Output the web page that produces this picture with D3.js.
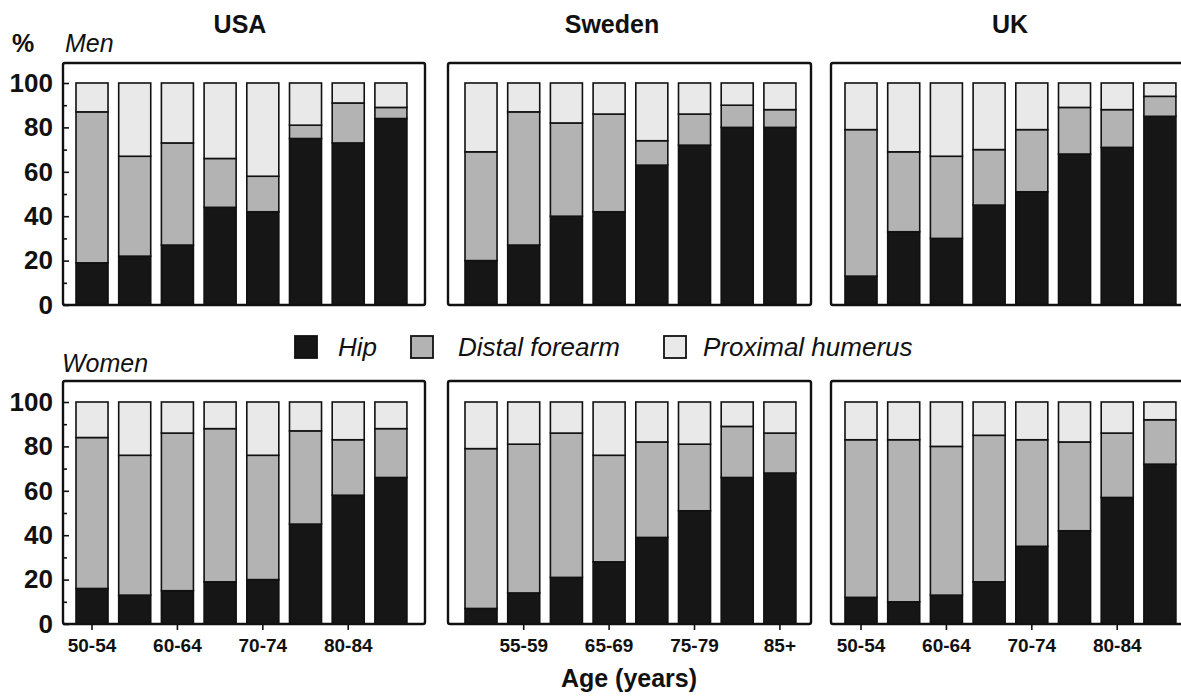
<!DOCTYPE html>
<html>
<head>
<meta charset="utf-8">
<script src="https://cdn.jsdelivr.net/npm/d3@7"></script>
<style>
  html, body { margin: 0; padding: 0; background: #fff; }
  svg { display: block; font-family: "Liberation Sans", Arial, Helvetica, sans-serif; }
</style>
</head>
<body>
<svg id="chart" width="1181" height="696"></svg>
<script>
// ---------- data ----------
const ageGroups = ["50-54", "55-59", "60-64", "65-69", "70-74", "75-79", "80-84", "85+"];
const fractureTypes = ["Hip", "Distal forearm", "Proximal humerus"];
const countries = ["USA", "Sweden", "UK"];
const sexes = ["Men", "Women"];
const yTicks = [0, 20, 40, 60, 80, 100];

// percentages of fractures, per age group
const usaMenHip       = [19, 22, 27, 44, 42, 75, 73, 84];
const usaMenDistal    = [68, 45, 46, 22, 16,  6, 18,  5];
const usaMenProximal  = [13, 33, 27, 34, 42, 19,  9, 11];

const swedenMenHip      = [20, 27, 40, 42, 63, 72, 80, 80];
const swedenMenDistal   = [49, 60, 42, 44, 11, 14, 10,  8];
const swedenMenProximal = [31, 13, 18, 14, 26, 14, 10, 12];

const ukMenHip       = [13, 33, 30, 45, 51, 68, 71, 85];
const ukMenDistal    = [66, 36, 37, 25, 28, 21, 17,  9];
const ukMenProximal  = [21, 31, 33, 30, 21, 11, 12,  6];

const usaWomenHip      = [16, 13, 15, 19, 20, 45, 58, 66];
const usaWomenDistal   = [68, 63, 71, 69, 56, 42, 25, 22];
const usaWomenProximal = [16, 24, 14, 12, 24, 13, 17, 12];

const swedenWomenHip      = [ 7, 14, 21, 28, 39, 51, 66, 68];
const swedenWomenDistal   = [72, 67, 65, 48, 43, 30, 23, 18];
const swedenWomenProximal = [21, 19, 14, 24, 18, 19, 11, 14];

const ukWomenHip      = [12, 10, 13, 19, 35, 42, 57, 72];
const ukWomenDistal   = [71, 73, 67, 66, 48, 40, 29, 20];
const ukWomenProximal = [17, 17, 20, 15, 17, 18, 14,  8];

// x-axis tick labels shown under each country's lower panel
const usaTickLabels    = ["50-54", "60-64", "70-74", "80-84"];
const swedenTickLabels = ["55-59", "65-69", "75-79", "85+"];
const ukTickLabels     = ["50-54", "60-64", "70-74", "80-84"];

// ---------- layout ----------
const colors = { "Hip": "#161616", "Distal forearm": "#b3b3b3", "Proximal humerus": "#e9e9e9" };
const columns = [
  { country: "USA",    frameLeft: 63,  frameRight: 425,  barStart: 76,  titleX: 240,  ticks: usaTickLabels },
  { country: "Sweden", frameLeft: 448, frameRight: 811,  barStart: 465, titleX: 612,  ticks: swedenTickLabels },
  { country: "UK",     frameLeft: 831, frameRight: 1195, barStart: 845, titleX: 1010, ticks: ukTickLabels }
];
const rows = [
  { sex: "Men",   bottom: 305, top: 63 },
  { sex: "Women", bottom: 624, top: 381 }
];
const step = 42.7;
const plotH = 222;

const seriesData = {
  "USA|Men":      [usaMenHip, usaMenDistal, usaMenProximal],
  "Sweden|Men":   [swedenMenHip, swedenMenDistal, swedenMenProximal],
  "UK|Men":       [ukMenHip, ukMenDistal, ukMenProximal],
  "USA|Women":    [usaWomenHip, usaWomenDistal, usaWomenProximal],
  "Sweden|Women": [swedenWomenHip, swedenWomenDistal, swedenWomenProximal],
  "UK|Women":     [ukWomenHip, ukWomenDistal, ukWomenProximal]
};

const svg = d3.select("#chart");

rows.forEach((row, ri) => {
  columns.forEach((col, ci) => {
    const arrs = seriesData[col.country + "|" + row.sex];
    const table = ageGroups.map((a, i) => {
      const o = { age: a };
      fractureTypes.forEach((k, j) => o[k] = arrs[j][i]);
      return o;
    });
    const stacked = d3.stack().keys(fractureTypes)(table);

    const x0 = col.barStart - (step * 0.25) / 2;
    const x = d3.scaleBand().domain(ageGroups)
      .range([x0, x0 + step * ageGroups.length])
      .paddingInner(0.25).paddingOuter(0.125);
    const y = d3.scaleLinear().domain([0, 100]).range([row.bottom, row.bottom - plotH]);

    const g = svg.append("g");

    // bars
    g.selectAll("g.series").data(stacked).join("g")
      .attr("class", "series")
      .attr("fill", d => colors[d.key])
      .selectAll("rect").data(d => d).join("rect")
      .attr("x", d => x(d.data.age))
      .attr("width", x.bandwidth())
      .attr("y", d => y(d[1]))
      .attr("height", d => y(d[0]) - y(d[1]))
      .attr("stroke", "#111")
      .attr("stroke-width", 1.6);

    // frame
    g.append("rect")
      .attr("x", col.frameLeft).attr("y", row.top)
      .attr("width", col.frameRight - col.frameLeft)
      .attr("height", row.bottom - row.top)
      .attr("rx", 2)
      .attr("fill", "none").attr("stroke", "#111").attr("stroke-width", 2.4);

    // y axis on first column
    if (ci === 0) {
      const minor = g.append("g").attr("transform", `translate(${col.frameLeft},0)`)
        .call(d3.axisRight(y).tickValues(d3.range(10, 100, 20)).tickSize(4).tickFormat(""));
      minor.select(".domain").remove();
      minor.selectAll("line").attr("stroke", "#111").attr("stroke-width", 1.6);
      const major = g.append("g").attr("transform", `translate(${col.frameLeft},0)`)
        .call(d3.axisRight(y).tickValues(yTicks).tickSize(6).tickFormat(""));
      major.select(".domain").remove();
      major.selectAll("line").attr("stroke", "#111").attr("stroke-width", 1.6);
      const lab = g.append("g").attr("transform", `translate(${col.frameLeft},0)`)
        .call(d3.axisLeft(y).tickValues(yTicks).tickSize(0).tickPadding(10));
      lab.select(".domain").remove();
      lab.selectAll("text")
        .attr("font-size", 26).attr("font-weight", "bold").attr("fill", "#111")
        .attr("font-family", "Liberation Sans, Arial, sans-serif");
    }

    // x axis on bottom row
    if (ri === 1) {
      const xa = g.append("g").attr("transform", `translate(0,${row.bottom})`)
        .call(d3.axisBottom(x).tickValues(col.ticks).tickSize(6).tickPadding(9));
      xa.select(".domain").remove();
      xa.selectAll("line").attr("stroke", "#111").attr("stroke-width", 1.6);
      xa.selectAll("text")
        .attr("font-size", 19).attr("font-weight", "bold").attr("fill", "#111")
        .attr("font-family", "Liberation Sans, Arial, sans-serif");
    }

    // country titles
    if (ri === 0) {
      svg.append("text").attr("x", col.titleX).attr("y", 33)
        .attr("text-anchor", "middle").attr("font-size", 25).attr("font-weight", "bold")
        .attr("fill", "#111").text(col.country);
    }
  });
});

// sex labels
svg.append("text").attr("x", 12).attr("y", 52).attr("font-size", 25).attr("font-weight", "bold")
  .attr("fill", "#111").text("%");
svg.append("text").attr("x", 65).attr("y", 52).attr("font-size", 25).attr("font-style", "italic")
  .attr("fill", "#111").text(sexes[0]);
svg.append("text").attr("x", 62).attr("y", 372).attr("font-size", 25).attr("font-style", "italic")
  .attr("fill", "#111").text(sexes[1]);

// legend
const legendPos = [
  { sq: 295, tx: 338 },
  { sq: 411, tx: 458 },
  { sq: 664, tx: 703 }
];
const leg = svg.append("g");
fractureTypes.forEach((k, i) => {
  leg.append("rect").attr("x", legendPos[i].sq).attr("y", 336).attr("width", 22).attr("height", 22)
    .attr("fill", colors[k]).attr("stroke", "#111").attr("stroke-width", 1.8);
  leg.append("text").attr("x", legendPos[i].tx).attr("y", 356).attr("font-size", 26)
    .attr("font-style", "italic").attr("fill", "#111").text(k);
});

// x axis title
svg.append("text").attr("x", 629).attr("y", 687).attr("text-anchor", "middle")
  .attr("font-size", 25).attr("font-weight", "bold").attr("fill", "#111").text("Age (years)");
</script>
</body>
</html>
